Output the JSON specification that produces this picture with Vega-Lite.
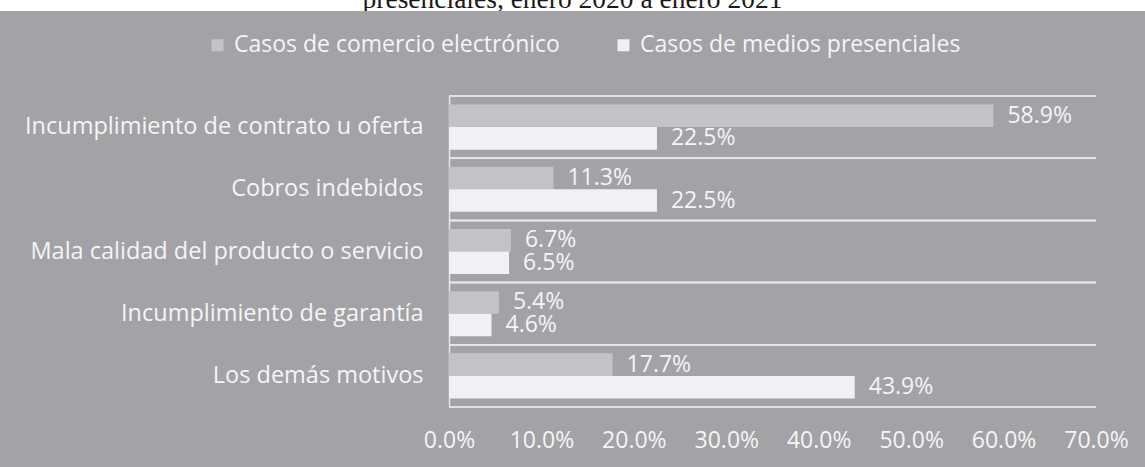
{
  "$schema": "https://vega.github.io/schema/vega-lite/v6.json",
  "background": "#a2a2a7",
  "padding": {"left": 0, "top": 0, "right": 0, "bottom": 15},
  "spacing": 22,
  "resolve": {"legend": {"color": "independent"}},
  "config": {"view": {"stroke": null}, "font": "Open Sans"},
  "vconcat": [
    {
      "width": 1145,
      "height": 11,
      "view": {"fill": "#ffffff", "stroke": null},
      "data": {"values": [{"t": "presenciales, enero 2020 a enero 2021"}]},
      "mark": {"type": "text", "font": "Liberation Serif", "fontSize": 27.5, "color": "#1a1a1a", "baseline": "alphabetic", "dy": 2, "clip": true},
      "encoding": {"text": {"field": "t", "type": "nominal"}}
    },
    {
      "width": 1096,
      "height": 311,
      "data": {
        "values": [
          {"motivo": "Incumplimiento de contrato u oferta", "serie": "Casos de comercio electrónico", "valor": 0.589},
          {"motivo": "Incumplimiento de contrato u oferta", "serie": "Casos de medios presenciales", "valor": 0.225},
          {"motivo": "Cobros indebidos", "serie": "Casos de comercio electrónico", "valor": 0.113},
          {"motivo": "Cobros indebidos", "serie": "Casos de medios presenciales", "valor": 0.225},
          {"motivo": "Mala calidad del producto o servicio", "serie": "Casos de comercio electrónico", "valor": 0.067},
          {"motivo": "Mala calidad del producto o servicio", "serie": "Casos de medios presenciales", "valor": 0.065},
          {"motivo": "Incumplimiento de garantía", "serie": "Casos de comercio electrónico", "valor": 0.054},
          {"motivo": "Incumplimiento de garantía", "serie": "Casos de medios presenciales", "valor": 0.046},
          {"motivo": "Los demás motivos", "serie": "Casos de comercio electrónico", "valor": 0.177},
          {"motivo": "Los demás motivos", "serie": "Casos de medios presenciales", "valor": 0.439}
        ]
      },
      "encoding": {
        "y": {
          "field": "motivo",
          "type": "nominal",
          "sort": ["Incumplimiento de contrato u oferta", "Cobros indebidos", "Mala calidad del producto o servicio", "Incumplimiento de garantía", "Los demás motivos"],
          "scale": {"paddingInner": 0, "paddingOuter": 0},
          "axis": {
            "title": null,
            "offset": -449,
            "ticks": false,
            "grid": false,
            "domain": true,
            "domainColor": "#e6e6ea",
            "domainWidth": 1.5,
            "labelPadding": 26,
            "labelFontSize": 23.5,
            "labelColor": "#f5f5f5",
            "labelLimit": 600
          }
        },
        "x": {
          "field": "valor",
          "type": "quantitative",
          "scale": {"domain": [-0.4858, 0.7], "zero": false, "nice": false},
          "axis": {
            "title": null,
            "values": [0, 0.1, 0.2, 0.3, 0.4, 0.5, 0.6, 0.7],
            "format": ".1%",
            "labelOverlap": false,
            "labelFlush": false,
            "grid": false,
            "domain": false,
            "ticks": false,
            "labelPadding": 22,
            "labelFontSize": 23,
            "labelColor": "#f5f5f5"
          }
        }
      },
      "layer": [
        {
          "mark": {"type": "rule", "color": "#e6e6ea", "strokeWidth": 1.5},
          "encoding": {
            "y": {"field": "motivo", "type": "nominal", "bandPosition": 0, "sort": ["Incumplimiento de contrato u oferta", "Cobros indebidos", "Mala calidad del producto o servicio", "Incumplimiento de garantía", "Los demás motivos"]},
            "x": {"datum": 0},
            "x2": {"datum": 0.7}
          }
        },
        {
          "mark": {"type": "rule", "color": "#e6e6ea", "strokeWidth": 1.5},
          "encoding": {
            "y": {"field": "motivo", "type": "nominal", "bandPosition": 1, "sort": ["Incumplimiento de contrato u oferta", "Cobros indebidos", "Mala calidad del producto o servicio", "Incumplimiento de garantía", "Los demás motivos"]},
            "x": {"datum": 0},
            "x2": {"datum": 0.7}
          }
        },
        {
          "mark": {"type": "bar"},
          "encoding": {
            "yOffset": {
              "field": "serie",
              "type": "nominal",
              "sort": ["Casos de comercio electrónico", "Casos de medios presenciales"],
              "scale": {"paddingInner": 0, "paddingOuter": 0.38}
            },
            "color": {
              "field": "serie",
              "type": "nominal",
              "scale": {"domain": ["Casos de comercio electrónico", "Casos de medios presenciales"], "range": ["#c2c2c8", "#f0f0f5"]},
              "legend": {
                "title": null,
                "orient": "none",
                "direction": "horizontal",
                "legendX": 206,
                "legendY": -62.5,
                "symbolType": "square",
                "symbolSize": 144,
                "symbolStrokeWidth": 0,
                "symbolOpacity": 1,
                "labelFontSize": 23,
                "labelColor": "#f5f5f5",
                "labelOffset": 5,
                "columnPadding": 52,
                "labelLimit": 600
              }
            }
          }
        },
        {
          "mark": {"type": "text", "align": "left", "baseline": "middle", "dx": 14, "fontSize": 23, "color": "#f5f5f5"},
          "encoding": {
            "yOffset": {
              "field": "serie",
              "type": "nominal",
              "sort": ["Casos de comercio electrónico", "Casos de medios presenciales"],
              "scale": {"paddingInner": 0, "paddingOuter": 0.38}
            },
            "text": {"field": "valor", "type": "quantitative", "format": ".1%"}
          }
        }
      ]
    }
  ]
}
